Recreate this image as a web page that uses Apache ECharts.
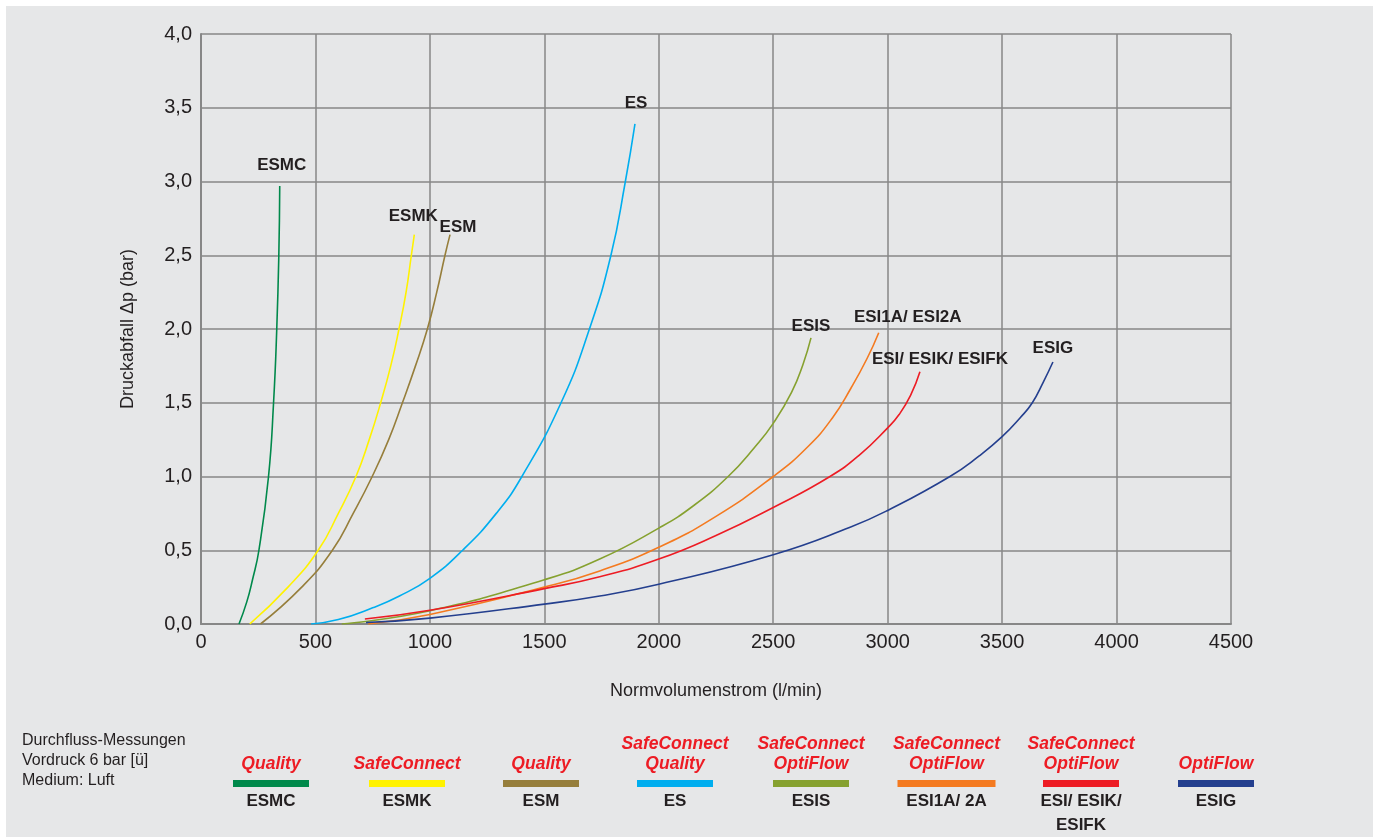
<!DOCTYPE html>
<html><head><meta charset="utf-8">
<script src="https://cdn.jsdelivr.net/npm/echarts@6/dist/echarts.min.js"></script>
<style>
html,body{margin:0;padding:0;background:#fff;}
#bg{position:absolute;left:6px;top:6px;width:1367px;height:831px;background:#e6e7e8;}
#c{position:absolute;left:0;top:0;width:1373px;height:837px;}
</style></head>
<body><div id="bg"></div><div id="c"></div>
<script>
// ---- data ----
const seriesNames = ['ESMC','ESMK','ESM','ES','ESIS','ESI1A/ ESI2A','ESI/ ESIK/ ESIFK','ESIG'];
const seriesColors = ['#00894b','#fff200','#967e3b','#00aeef','#86a12f','#f47a20','#ed1c24','#243f8e'];

const esmcX = [166,200,225,253,295,317,331,340,344];
const esmcY = [0,0.15,0.3,0.5,1.0,1.5,2.0,2.5,2.97];
const esmkX = [213,380,512,600,677,735,785,829,865,896,919,932];
const esmkY = [0,0.25,0.5,0.75,1.0,1.25,1.5,1.75,2.0,2.25,2.5,2.64];
const esmX = [260,440,574,665,748,820,880,937,989,1030,1066,1088];
const esmY = [0,0.25,0.5,0.75,1.0,1.25,1.5,1.75,2.0,2.25,2.5,2.64];
const esX = [481,600,750,867,1000,1143,1290,1402,1573,1697,1791,1854,1896];
const esY = [0,0.03,0.11,0.19,0.31,0.5,0.75,1.0,1.5,2.0,2.5,3.0,3.39];
const esisX = [615,1000,1500,1742,2000,2150,2303,2420,2500,2580,2630,2665];
const esisY = [0,0.09,0.30,0.44,0.65,0.8,1.0,1.2,1.36,1.57,1.76,1.94];
const esi1aX = [730,1000,1500,1742,2000,2250,2500,2650,2760,2840,2910,2961];
const esi1aY = [0,0.065,0.25,0.36,0.52,0.73,1.0,1.2,1.4,1.6,1.8,1.975];
const esiX = [716,1000,1500,1742,2000,2250,2500,2748,2880,3000,3050,3100,3141];
const esiY = [0.034,0.093,0.24,0.32,0.44,0.6,0.79,1.0,1.15,1.33,1.42,1.55,1.71];
const esigX = [721,1000,1500,1742,2000,2500,2836,3000,3272,3400,3500,3580,3632,3680,3722];
const esigY = [0.01,0.04,0.135,0.19,0.27,0.47,0.656,0.77,1.0,1.14,1.27,1.4,1.5,1.64,1.776];

const xTickLabels = ['0','500','1000','1500','2000','2500','3000','3500','4000','4500'];
const yTickLabels = ['0,0','0,5','1,0','1,5','2,0','2,5','3,0','3,5','4,0'];

const legendBrands = [['Quality'],['SafeConnect'],['Quality'],['SafeConnect','Quality'],['SafeConnect','OptiFlow'],['SafeConnect','OptiFlow'],['SafeConnect','OptiFlow'],['OptiFlow']];
const legendNames = [['ESMC'],['ESMK'],['ESM'],['ES'],['ESIS'],['ESI1A/ 2A'],['ESI/ ESIK/','ESIFK'],['ESIG']];
const noteLines = ['Durchfluss-Messungen','Vordruck 6 bar [ü]','Medium: Luft'];

// ---- build ----
const xs = [esmcX,esmkX,esmX,esX,esisX,esi1aX,esiX,esigX];
const ys = [esmcY,esmkY,esmY,esY,esisY,esi1aY,esiY,esigY];
// label centre offset from the curve's end point (px)
const labelOffsets = [[2,-21],[-1,-18],[8,-7],[1,-21],[0,-12],[29,-15],[20,-12],[0,-14]];
const FONT = 'Liberation Sans, Arial, sans-serif';

const series = seriesNames.map((n,i)=>({
  name:n, type:'line', data: xs[i].map((x,j)=>[x, ys[i][j]]),
  smooth:0.5, symbol:'none', showSymbol:false,
  lineStyle:{color:seriesColors[i], width:1.6}, itemStyle:{color:seriesColors[i]}, z:3+i, animation:false
}));

const legendX = [271,407,541,675,811,946.5,1081,1216];
const legendW = [76,76,76,76,76,98,76,76];
const graphic = [];
noteLines.forEach((t,k)=>graphic.push({type:'text', left:22, top:733+k*20,
  style:{text:t, fill:'#231f20', font:'16px '+FONT}}));
legendBrands.forEach((b,i)=>{
  const cx = legendX[i];
  const lines = b.length===2 ? [744,764] : [764];
  b.forEach((t,k)=>graphic.push({type:'text', x:cx, y:lines[k],
    style:{text:t, fill:'#ed1c24', font:'italic bold 17.5px '+FONT, textAlign:'center', textVerticalAlign:'middle'}}));
  graphic.push({type:'rect', shape:{x:cx-legendW[i]/2, y:780, width:legendW[i], height:7}, style:{fill:seriesColors[i]}});
  legendNames[i].forEach((t,k)=>graphic.push({type:'text', x:cx, y:801+k*24,
    style:{text:t, fill:'#231f20', font:'bold 17px '+FONT, textAlign:'center', textVerticalAlign:'middle'}}));
});

const gridColor = '#878787';
const chart = echarts.init(document.getElementById('c'), null, {renderer:'canvas'});
chart.setOption({
  backgroundColor:'transparent',
  animation:false,
  grid:{left:201, right:142, top:34, bottom:213, show:false},
  xAxis:{type:'value', min:0, max:4500, interval:500,
    name:'Normvolumenstrom (l/min)', nameLocation:'middle', nameGap:58,
    nameTextStyle:{fontFamily:FONT, fontSize:18, color:'#231f20'},
    axisLine:{show:true, lineStyle:{color:gridColor, width:2}}, axisTick:{show:false},
    axisLabel:{margin:8, fontFamily:FONT, fontSize:20, color:'#231f20', formatter:(v)=>xTickLabels[Math.round(v/500)]},
    splitLine:{show:true, lineStyle:{color:gridColor, width:1.5}}},
  yAxis:{type:'value', min:0, max:4, interval:0.5,
    name:'Druckabfall \u0394p (bar)', nameLocation:'middle', nameGap:64, nameRotate:90,
    nameTextStyle:{fontFamily:FONT, fontSize:18, color:'#231f20'},
    axisLine:{show:true, lineStyle:{color:gridColor, width:2}}, axisTick:{show:false},
    axisLabel:{margin:9, fontFamily:FONT, fontSize:20, color:'#231f20', formatter:(v)=>yTickLabels[Math.round(v/0.5)]},
    splitLine:{show:true, lineStyle:{color:gridColor, width:1.5}}},
  series,
  graphic
});

// curve-end labels, placed through the axis scales
const endLabels = seriesNames.map((n,i)=>{
  const k = xs[i].length-1;
  const p = chart.convertToPixel({gridIndex:0}, [xs[i][k], ys[i][k]]);
  return {type:'text', x:p[0]+labelOffsets[i][0], y:p[1]+labelOffsets[i][1], z:100,
    style:{text:n, fill:'#231f20', font:'bold 17px '+FONT, textAlign:'center', textVerticalAlign:'middle'}};
});
chart.setOption({graphic: graphic.concat(endLabels)});
</script></body></html>
